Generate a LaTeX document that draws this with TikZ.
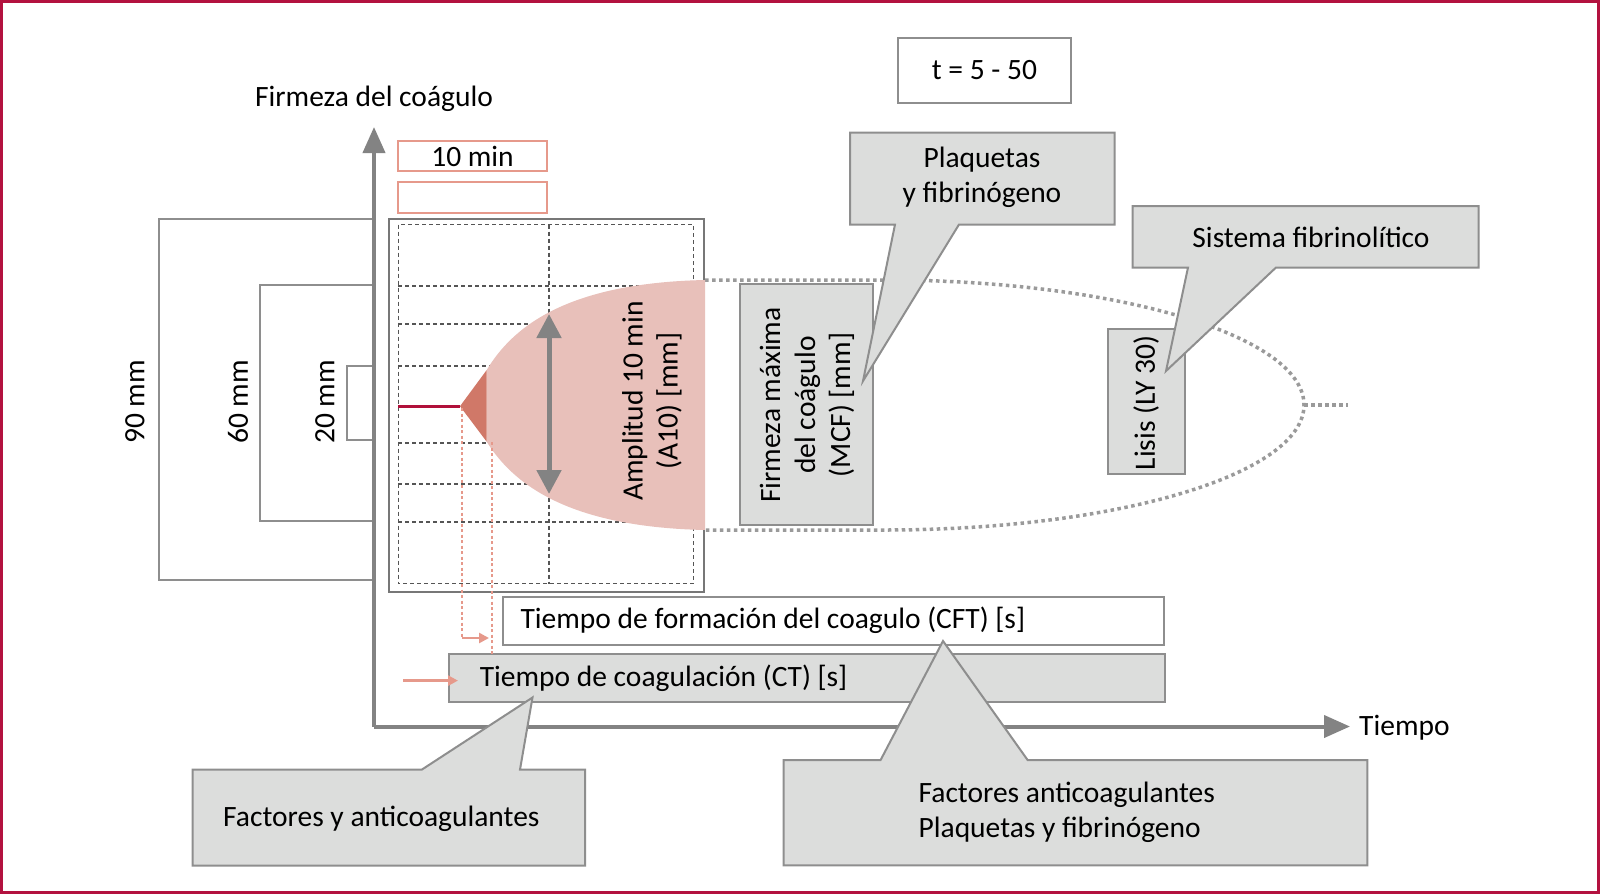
\documentclass[tikz,border=0pt]{standalone}
\usepackage{fontspec}
\setmainfont{Carlito}
\usetikzlibrary{arrows.meta}
\definecolor{framered}{HTML}{B3123F}
\definecolor{boxgray}{HTML}{DCDDDC}
\definecolor{linegray}{HTML}{8E8E8E}
\definecolor{axisgray}{HTML}{838383}
\definecolor{pinkl}{HTML}{E8C0BA}
\definecolor{pinkd}{HTML}{D07868}
\definecolor{salmon}{HTML}{E6998B}
\definecolor{gridgray}{HTML}{555555}
\definecolor{dotgray}{HTML}{9A9A9A}
\definecolor{redline}{HTML}{B0103A}
\tikzset{
  txt/.style={font=\fontsize{29.5}{35}\selectfont, inner sep=0pt, text=black},
  plainbox/.style={draw=linegray, line width=2pt, fill=white, inner sep=0pt},
  graybox/.style={draw=linegray, fill=boxgray, line width=2pt, inner sep=0pt},
  salmonbox/.style={draw=salmon, line width=2pt, fill=white, inner sep=0pt},
  axisline/.style={draw=axisgray, line width=4pt, -{Triangle[length=26pt,width=22pt]}},
  nestline/.style={draw=linegray, line width=2pt},
  gridline/.style={draw=gridgray, line width=1.6pt, dash pattern=on 4pt off 3pt},
  dotline/.style={draw=dotgray, line width=3.5pt, dash pattern=on 3.5pt off 3.5pt},
  salmondash/.style={draw=salmon, line width=1.4pt, dash pattern=on 3pt off 2.5pt},
  salmonarrow/.style={draw=salmon, line width=2.6pt, -{Triangle[length=10pt,width=10pt]}},
  callout/.style={draw=linegray, fill=boxgray, line width=2pt, line join=miter},
}
\begin{document}
\begin{tikzpicture}[x=1pt,y=-1pt]
\useasboundingbox (0,0) rectangle (1600,894);
\fill[white] (0,0) rectangle (1600,894);
\draw[framered, line width=3pt] (1.5,1.5) rectangle (1598.5,892.5);

% nested scale boxes
\draw[nestline] (374,218.5) -- (158.5,218.5) -- (158.5,580) -- (374,580);
\draw[nestline] (374,285) -- (259.5,285) -- (259.5,521) -- (374,521);
\draw[nestline] (374,366) -- (346.5,366) -- (346.5,440) -- (374,440);
\node[txt, rotate=90] (l90) at (135,402) {90 mm};
\node[txt, rotate=90] (l60) at (238,402) {60 mm};
\node[txt, rotate=90] (l20) at (325,402) {20 mm};

% axes
\coordinate (O) at (374,726.5);
\coordinate (ytop) at (374,127);
\coordinate (xend) at (1350,726.5);
\draw[axisline] (O) -- (ytop);
\draw[axisline] (O) -- (xend);
\node[txt] (ylab) at (374,99) {Firmeza del coágulo};
\node[txt, anchor=west] (xlab) at (1359,728) {Tiempo};

% t box
\node[plainbox, minimum width=173pt, minimum height=65pt, txt] (tbox) at (984.5,70.5) {t = 5 - 50};

% 10 min boxes
\node[salmonbox, minimum width=149pt, minimum height=30pt, txt] (tenmin) at (472.5,156) {10 min};
\node[salmonbox, minimum width=149pt, minimum height=31pt] (empty) at (472.5,197.5) {};

% graph frame
\node[draw=gridgray!80, line width=2pt, minimum width=315pt, minimum height=373pt, inner sep=0pt] (graph) at (546,405) {};
\draw[gridline] (398.3,224.5) rectangle (693.5,583.5);
\draw[gridline] (549,224.5) -- (549,583.5);
\foreach \yy in {286,324,366,406.5,443,484,522}
  \draw[gridline] (398.3,\yy) -- (693.5,\yy);

% dotted envelope
\coordinate (e1) at (705,280);
\coordinate (e2) at (885,280);
\coordinate (e3) at (1304,405);
\coordinate (e4) at (1348,405);
\draw[dotline] (e1) -- (e2) arc[start angle=-90, end angle=90, x radius=419, y radius=125] -- (705,530);
\draw[dotline] (e3) -- (e4);

% clot shape
\fill[pinkl] (486.7,370) .. controls (512,328) and (565,283) .. (705,280) -- (705,530)
  .. controls (565,527) and (512,482) .. (486.7,441.7) -- cycle;
\fill[pinkd] (460,406.2) -- (486.7,370) -- (486.7,441.7) -- cycle;
\draw[redline, line width=3pt] (398.3,406.2) -- (460,406.2);
\coordinate (a1) at (549,314);
\coordinate (a2) at (549,494);
\draw[axisgray, line width=5pt, {Triangle[length=24pt,width=24pt]}-{Triangle[length=24pt,width=24pt]}] (a1) -- (a2);
\node[txt, rotate=90, align=center] (amp) at (652,401) {Amplitud 10 min\\(A10) [mm]};

% MCF and Lisis boxes
\node[graybox, minimum width=132.5pt, minimum height=241pt] (mcf) at (806.25,404.5) {};
\node[txt, rotate=90, align=center] (mcft) at (807,405) {Firmeza máxima\\del coágulo\\(MCF) [mm]};
\node[graybox, minimum width=77pt, minimum height=145pt] (lisis) at (1146.5,401.5) {};
\node[txt, rotate=90] (lisist) at (1146,403) {Lisis (LY 30)};

% CFT and CT boxes
\node[plainbox, minimum width=661pt, minimum height=48pt] (cft) at (833.6,621) {};
\node[txt, anchor=west] (cftt) at (520.4,620) {Tiempo de formación del coagulo (CFT) [s]};
\node[graybox, minimum width=716pt, minimum height=48pt] (ct) at (807,678) {};
\node[txt, anchor=west] (ctt) at (479.6,678) {Tiempo de coagulación (CT) [s]};

% salmon guides
\coordinate (s1) at (462,408);
\coordinate (s2) at (462,638);
\coordinate (s3) at (489,638);
\coordinate (s4) at (492,442);
\coordinate (s5) at (492,654);
\coordinate (s6) at (403,680.6);
\coordinate (s7) at (458,680.6);
\draw[salmondash] (s1) -- (s2);
\draw[salmonarrow] (s2) -- (s3);
\draw[salmondash] (s4) -- (s5);
\draw[salmonarrow] (s6) -- (s7);

% callouts
\draw[callout] (850,132.5) -- (1114.5,132.5) -- (1114.5,224.5) -- (959,224.5) -- (863,381) -- (895,224.5) -- (850,224.5) -- cycle;
\node[txt, align=center] (plaq) at (982,177.5) {Plaquetas\\y fibrinógeno};

\draw[callout] (1132.5,206) -- (1478.5,206) -- (1478.5,267.5) -- (1276,267.5) -- (1166,371) -- (1188,267.5) -- (1132.5,267.5) -- cycle;
\node[txt] (sist) at (1311,237) {Sistema fibrinolítico};

\draw[callout] (192.5,769.5) -- (422,769.5) -- (532.5,697.5) -- (520,769.5) -- (585,769.5) -- (585,865.5) -- (192.5,865.5) -- cycle;
\node[txt, anchor=west] (fact) at (223,818.5) {Factores y anticoagulantes};

\draw[callout] (783.7,760) -- (880.6,760) -- (943,641) -- (1027.6,760) -- (1367.3,760) -- (1367.3,865.3) -- (783.7,865.3) -- cycle;
\node[txt, anchor=west, align=left] (fact2) at (918.4,812.5) {Factores anticoagulantes\\Plaquetas y fibrinógeno};
\end{tikzpicture}
\end{document}
